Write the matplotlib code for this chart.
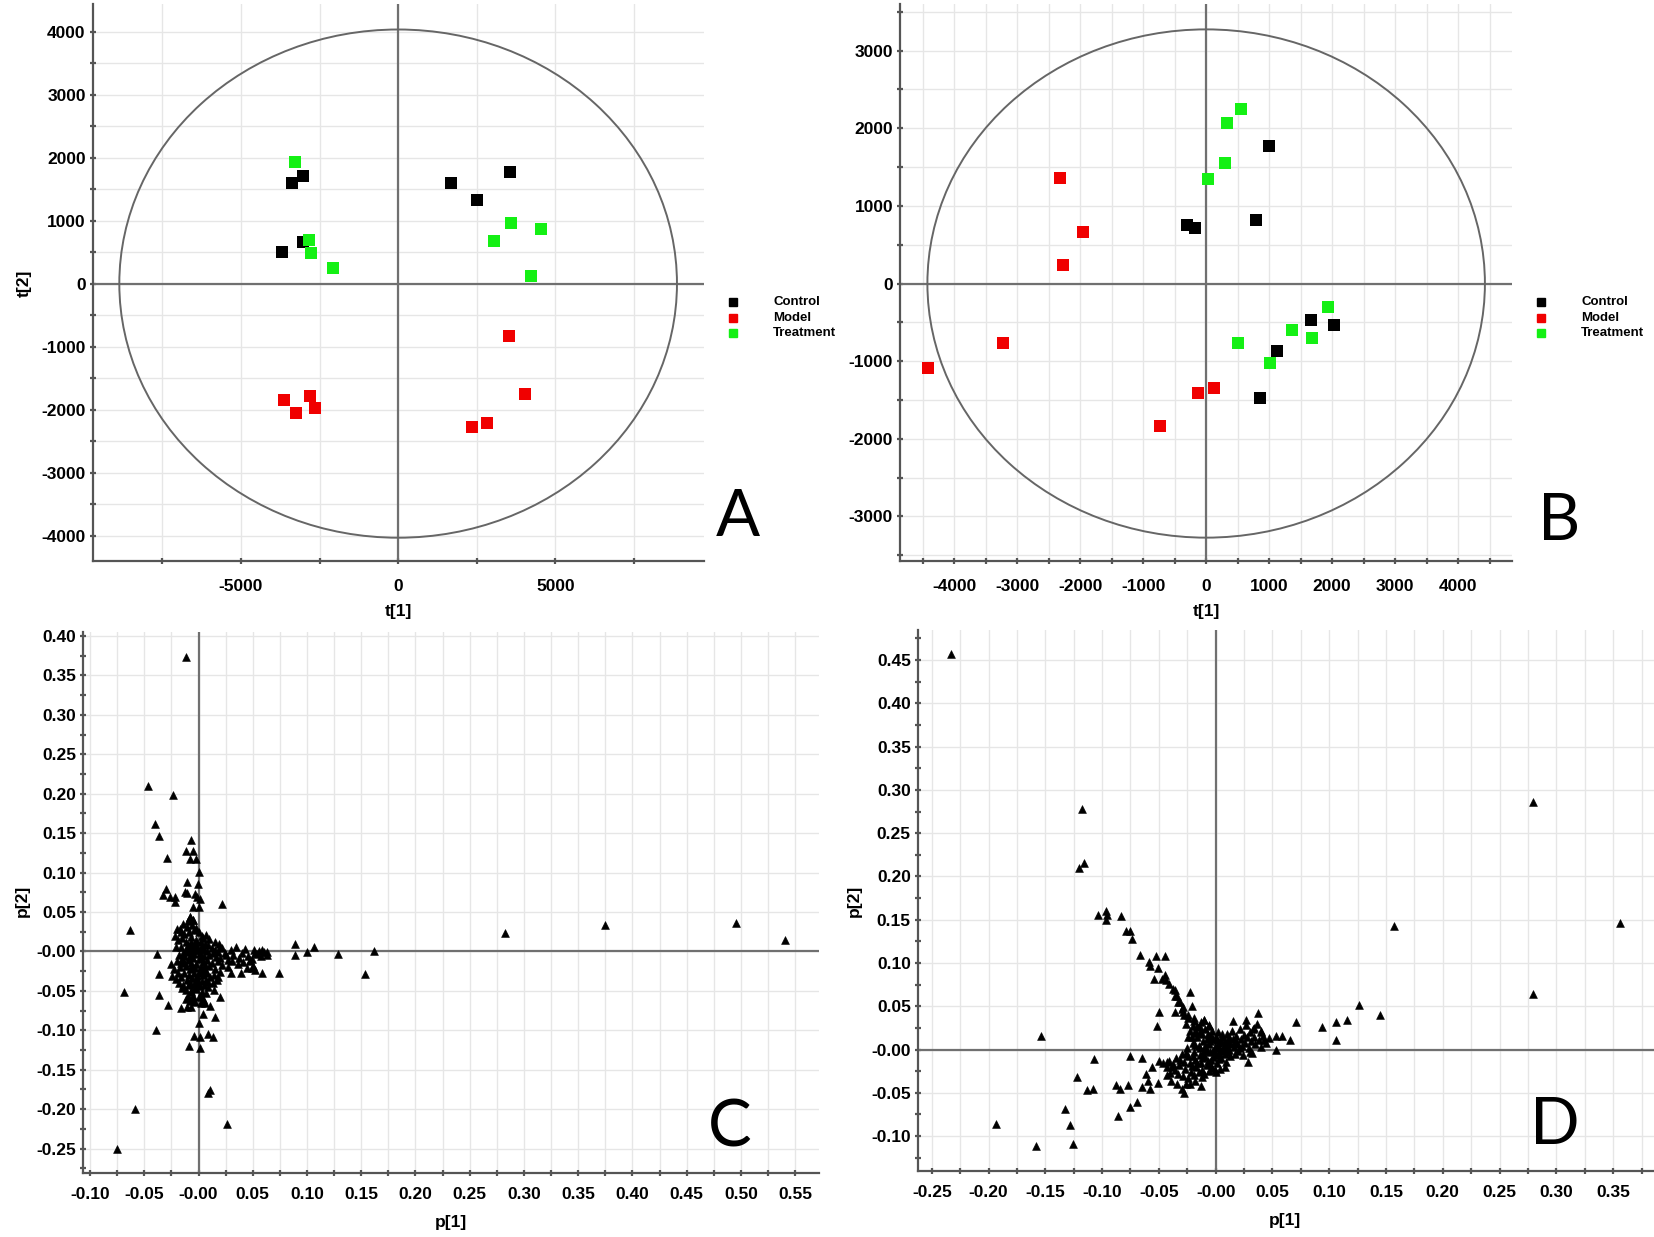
import matplotlib
matplotlib.use("Agg")
import matplotlib.pyplot as plt
from matplotlib.patches import Ellipse
from matplotlib.lines import Line2D
import numpy as np

plt.rcParams['font.family'] = ['Liberation Sans', 'DejaVu Sans']
plt.rcParams['axes.unicode_minus'] = False

groups = ['Control', 'Model', 'Treatment']
group_colors = ['#000000', '#f00000', '#14f014']

# ---- panel A: PCA scores t[1] / t[2]
a_control_t1 = [-3370, -3030, -3030, -3690, 1680, 2520, 3550]
a_control_t2 = [1600, 1710, 660, 500, 1600, 1330, 1780]
a_model_t1 = [-3620, -3250, -2800, -2660, 3530, 4040, 2360, 2830]
a_model_t2 = [-1850, -2060, -1780, -1980, -830, -1750, -2270, -2210]
a_treat_t1 = [-3270, -2850, -2760, -2070, 3590, 4560, 3050, 4230]
a_treat_t2 = [1930, 700, 480, 250, 960, 870, 680, 120]
a_ellipse = (8870, 4035)

# ---- panel B: OPLS-DA scores t[1] / t[2]
b_control_t1 = [-300, -180, 990, 790, 1670, 2030, 1130, 860]
b_control_t2 = [760, 710, 1770, 820, -470, -540, -870, -1480]
b_model_t1 = [-2320, -1960, -2280, -3230, -4410, -125, 117, -740]
b_model_t2 = [1365, 660, 235, -760, -1090, -1415, -1340, -1835]
b_treat_t1 = [560, 335, 300, 25, 1930, 1370, 1685, 510, 1010]
b_treat_t2 = [2245, 2070, 1550, 1350, -305, -600, -705, -770, -1025]
b_ellipse = (4425, 3273)

# ---- panel C: loadings p[1] / p[2]
c_loadings = [
    (-0.0462, 0.210), (-0.0232, 0.198), (-0.0398, 0.162), (-0.0367, 0.146), (-0.0066, 0.1415),
    (-0.0293, 0.119), (-0.0115, 0.127), (-0.0047, 0.127), (-0.0078, 0.117), (-0.0023, 0.117),
    (0.0008, 0.101), (-0.0103, 0.088), (-0.0004, 0.086), (-0.0299, 0.0786), (-0.033, 0.0715),
    (-0.0262, 0.069), (-0.0216, 0.069), (-0.0216, 0.063), (-0.0127, 0.0756), (-0.0108, 0.0744),
    (-0.0032, 0.0726), (-0.001, 0.069), (-0.0047, 0.0566), (0.0008, 0.0566), (0.0014, 0.066),
    (0.022, 0.0604), (-0.0078, 0.0439), (-0.0047, 0.0397),
    (-0.038, -0.003), (0.0889, 0.0093), (0.0889, -0.0042), (0.1003, -0.0008), (0.1067, 0.0055),
    (0.1289, -0.0034), (0.162, 0.0), (0.0582, 0.0021), (0.0635, -0.0008), (0.052, -0.002),
    (0.0475, -0.011),
    (-0.0361, -0.0288), (-0.0367, -0.0558), (-0.0284, -0.0685), (-0.039, -0.0994), (-0.0161, -0.0723),
    (-0.0109, -0.0702), (-0.0069, -0.0702), (-0.0115, -0.0604), (-0.0072, -0.052), (0.0045, -0.0795),
    (0.0152, -0.0829), (0.0106, -0.0689), (0.0143, -0.049), (0.0201, -0.058), (0.0183, -0.032),
    (0.0002, -0.0913), (-0.0038, -0.1074), (0.0017, -0.109), (0.009, -0.105), (0.013, -0.108),
    (-0.0087, -0.1196), (0.0017, -0.1226), (0.0106, -0.1758), (0.0088, -0.180), (0.026, -0.219),
    (0.1535, -0.029), (0.0739, -0.0271), (0.0588, -0.028), (0.0392, -0.028), (0.030, -0.028),
    (0.049, -0.021), (0.052, -0.023),
    (0.3747, 0.0333), (0.2825, 0.0233), (0.4958, 0.0359), (0.5411, 0.0143), (-0.0112, 0.3735),
    (-0.0756, -0.250), (-0.059, -0.200), (-0.0688, -0.052), (-0.063, 0.0274),
    # dense core
    (-0.020, 0.028), (-0.017, 0.028), (-0.011, 0.031), (-0.008, 0.044), (-0.005, 0.040),
    (-0.013, 0.022), (-0.009, 0.025), (-0.004, 0.027), (0.000, 0.024), (0.003, 0.020),
    (-0.019, 0.015), (-0.015, 0.017), (-0.012, 0.012), (-0.007, 0.018), (-0.002, 0.015),
    (0.002, 0.012), (0.006, 0.010), (0.009, 0.008), (0.012, 0.004), (0.015, 0.002),
    (-0.021, 0.005), (-0.016, 0.006), (-0.011, 0.004), (-0.006, 0.007), (-0.001, 0.006),
    (0.004, 0.003), (0.008, 0.000), (0.013, -0.002), (0.018, -0.001), (0.022, 0.004),
    (-0.018, -0.004), (-0.014, -0.002), (-0.009, -0.001), (-0.004, -0.003), (0.001, -0.002),
    (0.005, -0.006), (0.010, -0.005), (0.016, -0.007), (0.020, -0.009), (0.025, -0.005),
    (-0.020, -0.012), (-0.015, -0.010), (-0.010, -0.011), (-0.005, -0.009), (0.000, -0.010),
    (0.004, -0.013), (0.008, -0.011), (0.012, -0.015), (-0.002, -0.016), (-0.007, -0.015),
    (-0.017, -0.020), (-0.012, -0.019), (-0.008, -0.022), (-0.003, -0.021), (0.002, -0.020),
    (0.006, -0.023), (0.010, -0.019), (-0.013, -0.027), (-0.009, -0.030), (-0.004, -0.028),
    (0.000, -0.027), (0.004, -0.030), (0.008, -0.028), (-0.016, -0.033), (-0.011, -0.036),
    (-0.006, -0.034), (-0.001, -0.035), (0.003, -0.038), (0.007, -0.036), (0.011, -0.033),
    (-0.014, -0.042), (-0.009, -0.043), (-0.004, -0.041), (0.001, -0.044), (0.005, -0.042),
    (0.009, -0.045), (-0.012, -0.049), (-0.007, -0.050), (-0.002, -0.048), (0.003, -0.051),
    (0.007, -0.053), (-0.010, -0.057), (-0.005, -0.056), (0.000, -0.058), (0.004, -0.060),
    (-0.003, -0.064), (0.002, -0.066), (-0.008, -0.063), (0.006, -0.065),
    (-0.019, -0.028), (-0.021, -0.035), (-0.018, -0.040), (-0.023, -0.022), (-0.025, -0.016),
    (-0.024, -0.031),
    (0.020, 0.006), (0.024, -0.002), (0.027, -0.011), (0.030, 0.002), (0.032, -0.004),
    (0.035, 0.006), (0.037, -0.008), (0.040, -0.002), (0.043, 0.003), (0.046, -0.006),
    (0.049, -0.010), (0.051, 0.002), (0.054, -0.003), (0.056, 0.001), (0.060, -0.001),
    (0.063, -0.004), (0.058, -0.006), (0.047, -0.012), (0.050, -0.018), (0.045, -0.021),
    (0.041, -0.014), (0.036, -0.016), (0.031, -0.012), (0.027, -0.020), (0.022, -0.017),
    (0.018, -0.012), (0.015, -0.022), (0.020, -0.026), (0.014, -0.030), (0.017, -0.036),
    (0.013, -0.040), (0.019, 0.010), (0.015, 0.012), (0.010, 0.016), (0.007, 0.021),
    (0.004, 0.017), (-0.006, 0.002), (-0.003, 0.010), (0.001, 0.002), (-0.008, -0.006),
    (-0.013, -0.006), (0.006, -0.017), (-0.016, -0.015), (-0.001, -0.031), (0.002, -0.009),
    (-0.011, 0.000),
    (-0.014, 0.035), (-0.010, 0.038), (-0.006, 0.033), (-0.002, 0.030), (-0.016, 0.024),
    (-0.022, 0.020), (-0.007, 0.012), (-0.010, 0.008), (-0.003, 0.002), (0.003, 0.007),
    (-0.013, -0.013), (-0.006, -0.019), (0.003, -0.025), (-0.008, -0.039), (-0.003, -0.045),
    (0.002, -0.055), (-0.006, -0.060), (0.009, -0.039), (-0.015, -0.046), (-0.001, -0.040),
]

# ---- panel D: loadings p[1] / p[2]
d_loadings = [
    (-0.2327, 0.4574), (-0.1174, 0.2783), (-0.1160, 0.2152), (-0.1206, 0.2095), (0.2794, 0.2865),
    (0.2794, 0.0642), (0.3562, 0.1461), (0.1567, 0.1433), (0.1261, 0.052), (0.145, 0.0397),
    (0.116, 0.0337), (0.1063, 0.032), (0.0933, 0.0266), (0.1063, 0.011), (0.0707, 0.032),
    (-0.1938, -0.0862), (-0.1581, -0.1117), (-0.1253, -0.1092), (-0.1281, -0.0872), (-0.1327, -0.0686),
    (-0.1535, 0.0156), (-0.0836, 0.154),
    (-0.1038, 0.155), (-0.0965, 0.160), (-0.0959, 0.1555), (-0.0965, 0.150), (-0.0789, 0.137),
    (-0.0753, 0.137), (-0.0736, 0.1283), (-0.0665, 0.109), (-0.059, 0.1015), (-0.0577, 0.0964),
    (-0.0528, 0.108), (-0.0448, 0.108), (-0.0510, 0.0937), (-0.0541, 0.0811), (-0.0474, 0.0818),
    (-0.0445, 0.0857), (-0.0436, 0.080), (-0.0407, 0.0757), (-0.0362, 0.0687), (-0.0342, 0.0622),
    (-0.0230, 0.066), (-0.0313, 0.0552), (-0.0289, 0.0494), (-0.0207, 0.0501), (-0.0360, 0.0429),
    (-0.0284, 0.0429), (-0.0240, 0.0398), (-0.0195, 0.036), (-0.0107, 0.034), (-0.0063, 0.0276),
    (-0.0166, 0.0276), (-0.0137, 0.0207), (-0.0195, 0.0188), (-0.0240, 0.015), (-0.0495, 0.0429),
    (-0.0519, 0.0272),
    (0.0372, 0.0418), (0.0269, 0.034), (0.0151, 0.0329), (0.0659, 0.0111), (0.0527, 0.0),
    (0.0586, 0.0157), (0.0527, 0.0154), (0.0469, 0.0138), (0.0424, 0.0111), (0.0395, 0.0034),
    (0.0395, 0.0199), (0.0336, 0.0245), (0.0304, -0.0031), (0.0281, -0.0139), (0.0, -0.026),
    (-0.0132, -0.0416), (-0.0278, -0.0504), (-0.0225, -0.0396), (-0.0337, -0.0396), (-0.0396, -0.0358),
    (-0.0430, -0.0296), (-0.0496, -0.0127), (-0.0563, -0.0204), (-0.0617, -0.0281), (-0.0596, -0.0358),
    (-0.0578, -0.0454), (-0.0649, -0.0435), (-0.0510, -0.0389), (-0.0429, -0.0146), (-0.0386, -0.0204),
    (-0.0653, -0.0100), (-0.0753, -0.0069), (-0.0774, -0.041), (-0.0841, -0.0452), (-0.0879, -0.041),
    (-0.0694, -0.061), (-0.0753, -0.066), (-0.0856, -0.0772), (-0.1068, -0.0106), (-0.1217, -0.0318),
    (-0.1076, -0.0452), (-0.1132, -0.0468),
    # dense core
    (-0.035, -0.010), (-0.032, -0.018), (-0.030, -0.005), (-0.028, -0.014), (-0.027, -0.022),
    (-0.025, 0.002), (-0.024, -0.008), (-0.023, -0.016), (-0.022, -0.026), (-0.020, 0.008),
    (-0.019, -0.003), (-0.018, -0.012), (-0.017, -0.020), (-0.016, 0.014), (-0.015, 0.004),
    (-0.014, -0.006), (-0.013, -0.015), (-0.012, -0.024), (-0.011, 0.010), (-0.010, 0.000),
    (-0.009, -0.009), (-0.008, -0.018), (-0.007, 0.018), (-0.006, 0.006), (-0.005, -0.003),
    (-0.004, -0.012), (-0.003, -0.021), (-0.002, 0.012), (-0.001, 0.003), (0.000, -0.006),
    (0.001, -0.015), (0.002, 0.020), (0.003, 0.008), (0.004, -0.001), (0.005, -0.010),
    (0.006, 0.014), (0.007, 0.004), (0.008, -0.005), (0.009, -0.014), (0.010, 0.018),
    (0.011, 0.009), (0.012, 0.000), (0.013, -0.008), (0.014, 0.022), (0.015, 0.012),
    (0.016, 0.003), (0.017, -0.005), (0.018, 0.016), (0.019, 0.007), (0.020, -0.002),
    (0.021, 0.024), (0.022, 0.012), (0.023, 0.004), (0.024, -0.006), (0.025, 0.017),
    (0.026, 0.008), (0.027, 0.028), (0.028, 0.014), (0.029, 0.002), (0.030, 0.020),
    (0.031, 0.010), (0.032, -0.004), (0.033, 0.024), (0.034, 0.015), (0.035, 0.006),
    (0.036, 0.030), (0.038, 0.011), (0.040, 0.022), (0.042, 0.016), (0.044, 0.008),
    (-0.038, -0.017), (-0.036, -0.024), (-0.041, -0.013), (-0.043, -0.020), (-0.040, -0.027),
    (-0.046, -0.015), (-0.033, -0.028), (-0.029, -0.031), (-0.024, -0.033), (-0.019, -0.029),
    (-0.015, -0.026), (-0.010, -0.028), (-0.006, -0.025), (-0.001, -0.024), (0.004, -0.022),
    (0.008, -0.020), (-0.012, -0.032), (-0.018, -0.036), (-0.026, -0.040), (-0.030, -0.045),
    (-0.026, 0.030), (-0.023, 0.022), (-0.020, 0.027), (-0.017, 0.020), (-0.014, 0.026),
    (-0.012, 0.018), (-0.009, 0.024), (-0.006, 0.028), (-0.003, 0.022), (-0.008, 0.012),
    (-0.021, 0.015), (-0.028, 0.040), (-0.024, 0.036), (-0.019, 0.033), (-0.013, 0.032),
    (-0.010, 0.034), (-0.030, 0.047), (-0.033, 0.055), (-0.036, 0.062), (-0.038, 0.070),
    (-0.005, 0.010), (0.000, 0.002), (0.003, -0.004), (-0.008, -0.002), (-0.012, -0.010),
    (0.006, -0.002), (0.010, 0.004), (-0.002, -0.009), (0.012, 0.014), (0.016, 0.008),
    (-0.020, -0.008), (-0.016, -0.016), (-0.004, 0.016), (0.001, 0.011), (0.008, 0.010),
    (-0.031, -0.012), (-0.026, -0.004), (-0.021, -0.019), (-0.011, -0.005), (-0.007, -0.013),
    (-0.002, -0.002), (0.002, 0.004), (0.005, 0.010), (0.009, 0.001), (0.013, 0.006),
    (0.018, 0.010), (0.021, 0.002), (-0.014, 0.002), (-0.018, 0.005), (0.000, 0.014),
    (-0.005, -0.017), (0.003, -0.011), (0.006, 0.018), (-0.009, 0.004), (0.011, -0.003),
]

# tick labels
a_xticklabels = ['-5000', '0', '5000']
a_yticklabels = ['-4000', '-3000', '-2000', '-1000', '0', '1000', '2000', '3000', '4000']
b_xticklabels = ['-4000', '-3000', '-2000', '-1000', '0', '1000', '2000', '3000', '4000']
b_yticklabels = ['-3000', '-2000', '-1000', '0', '1000', '2000', '3000']
c_xticklabels = ['-0.10', '-0.05', '-0.00', '0.05', '0.10', '0.15', '0.20', '0.25', '0.30',
                 '0.35', '0.40', '0.45', '0.50', '0.55']
c_yticklabels = ['-0.25', '-0.20', '-0.15', '-0.10', '-0.05', '-0.00', '0.05', '0.10', '0.15',
                 '0.20', '0.25', '0.30', '0.35', '0.40']
d_xticklabels = ['-0.25', '-0.20', '-0.15', '-0.10', '-0.05', '-0.00', '0.05', '0.10', '0.15',
                 '0.20', '0.25', '0.30', '0.35']
d_yticklabels = ['-0.10', '-0.05', '-0.00', '0.05', '0.10', '0.15', '0.20', '0.25', '0.30',
                 '0.35', '0.40', '0.45']

W, H = 1654, 1237
fig = plt.figure(figsize=(W / 100, H / 100), dpi=100)


def px_axes(l, t, r, b):
    return fig.add_axes([l / W, 1 - b / H, (r - l) / W, (b - t) / H])


def style(ax, xlabels, ylabels, xminor, yminor, xpad, grid_y_minor=True):
    xt = [float(s) for s in xlabels]
    yt = [float(s) for s in ylabels]
    ax.set_xticks(xt)
    ax.set_xticklabels(xlabels)
    ax.set_yticks(yt)
    ax.set_yticklabels(ylabels)
    ax.set_xticks(xminor, minor=True)
    ax.set_yticks(yminor, minor=True)
    ax.grid(which='both', axis='x', color='#e6e6e6', lw=1.0, zorder=0)
    ax.grid(which='both' if grid_y_minor else 'major', axis='y', color='#e6e6e6', lw=1.0, zorder=0)
    ax.set_axisbelow(True)
    for s in ['top', 'right']:
        ax.spines[s].set_visible(False)
    for s in ['left', 'bottom']:
        ax.spines[s].set_color('#555555')
        ax.spines[s].set_linewidth(1.6)
    ax.tick_params(which='both', direction='inout', length=4, width=1.6, color='#555555',
                   labelsize=12.5)
    ax.tick_params(axis='x', pad=xpad)
    ax.tick_params(axis='y', pad=3)
    for lab in ax.get_xticklabels() + ax.get_yticklabels():
        lab.set_fontweight('bold')
    ax.axhline(0, color='#707070', lw=1.6, zorder=1)
    ax.axvline(0, color='#707070', lw=1.6, zorder=1)
    ax.set_facecolor('white')


def legend_block(mx, tx, ys):
    for g, c, y in zip(groups, group_colors, ys):
        fig.add_artist(Line2D([mx / W], [1 - y / H], marker='s', color=c, markersize=6,
                              linestyle='none', transform=fig.transFigure))
        fig.text(tx / W, 1 - y / H, g, fontsize=9.5, fontweight='bold', va='center', ha='left')


# ---- A
axA = px_axes(92.6, 4, 704, 560.7)
style(axA, a_xticklabels, a_yticklabels, [-7500, -2500, 2500, 7500],
      np.arange(-4500, 4501, 500), xpad=11)
axA.set_xlim(-9720, 9730)
axA.set_ylim(-4400, 4440)
axA.add_patch(Ellipse((0, 0), 2 * a_ellipse[0], 2 * a_ellipse[1], fill=False,
                      edgecolor='#666666', lw=1.4, zorder=2))
for (x, y), c in zip([(a_control_t1, a_control_t2), (a_model_t1, a_model_t2),
                      (a_treat_t1, a_treat_t2)], group_colors):
    axA.scatter(x, y, marker='s', s=80, color=c, linewidths=0, zorder=3)

# ---- B
axB = px_axes(900, 4, 1512, 560.7)
style(axB, b_xticklabels, b_yticklabels, np.arange(-4500, 4501, 500),
      np.arange(-3500, 3501, 500), xpad=11)
axB.set_xlim(-4860, 4855)
axB.set_ylim(-3570, 3600)
axB.add_patch(Ellipse((0, 0), 2 * b_ellipse[0], 2 * b_ellipse[1], fill=False,
                      edgecolor='#666666', lw=1.4, zorder=2))
for (x, y), c in zip([(b_control_t1, b_control_t2), (b_model_t1, b_model_t2),
                      (b_treat_t1, b_treat_t2)], group_colors):
    axB.scatter(x, y, marker='s', s=80, color=c, linewidths=0, zorder=3)

# ---- C
axC = px_axes(83, 632, 819, 1173)
style(axC, c_xticklabels, c_yticklabels, np.arange(-0.075, 0.56, 0.05),
      np.arange(-0.275, 0.40, 0.05), xpad=8, grid_y_minor=False)
axC.set_xlim(-0.1065, 0.572)
axC.set_ylim(-0.281, 0.405)
c_p1, c_p2 = zip(*c_loadings)
axC.scatter(c_p1, c_p2, marker='^', s=32, color='black', edgecolors='black',
            linewidths=0.4, zorder=3)

# ---- D
axD = px_axes(917.8, 630, 1654, 1171)
style(axD, d_xticklabels, d_yticklabels, np.arange(-0.275, 0.38, 0.05),
      np.arange(-0.125, 0.48, 0.05), xpad=8, grid_y_minor=False)
axD.set_xlim(-0.2623, 0.386)
axD.set_ylim(-0.1403, 0.4848)
d_p1, d_p2 = zip(*d_loadings)
axD.scatter(d_p1, d_p2, marker='^', s=32, color='black', edgecolors='black',
            linewidths=0.4, zorder=3)

# axis titles
lab_kw = dict(fontsize=12.5, fontweight='bold', ha='center', va='center')
fig.text(398 / W, 1 - 611 / H, 't[1]', **lab_kw)
fig.text(1206 / W, 1 - 611 / H, 't[1]', **lab_kw)
fig.text(24 / W, 1 - 283 / H, 't[2]', rotation=90, **lab_kw)
fig.text(451 / W, 1 - 1222 / H, 'p[1]', **lab_kw)
fig.text(22 / W, 1 - 901 / H, 'p[2]', rotation=90, **lab_kw)
fig.text(1285 / W, 1 - 1220 / H, 'p[1]', **lab_kw)
fig.text(854 / W, 1 - 901 / H, 'p[2]', rotation=90, **lab_kw)

# legends
legend_block(733, 773, [302, 317.5, 333])
legend_block(1541, 1581, [302, 317.5, 333])

# panel letters
let_kw = dict(fontsize=47, ha='center', va='center', family=['Lato', 'DejaVu Sans'])
fig.text(738 / W, 1 - 518 / H, 'A', **let_kw)
fig.text(1559 / W, 1 - 522 / H, 'B', **let_kw)
fig.text(730 / W, 1 - 1128 / H, 'C', **let_kw)
fig.text(1555 / W, 1 - 1126 / H, 'D', **let_kw)

fig.savefig('out.png', dpi=100, facecolor='white')
